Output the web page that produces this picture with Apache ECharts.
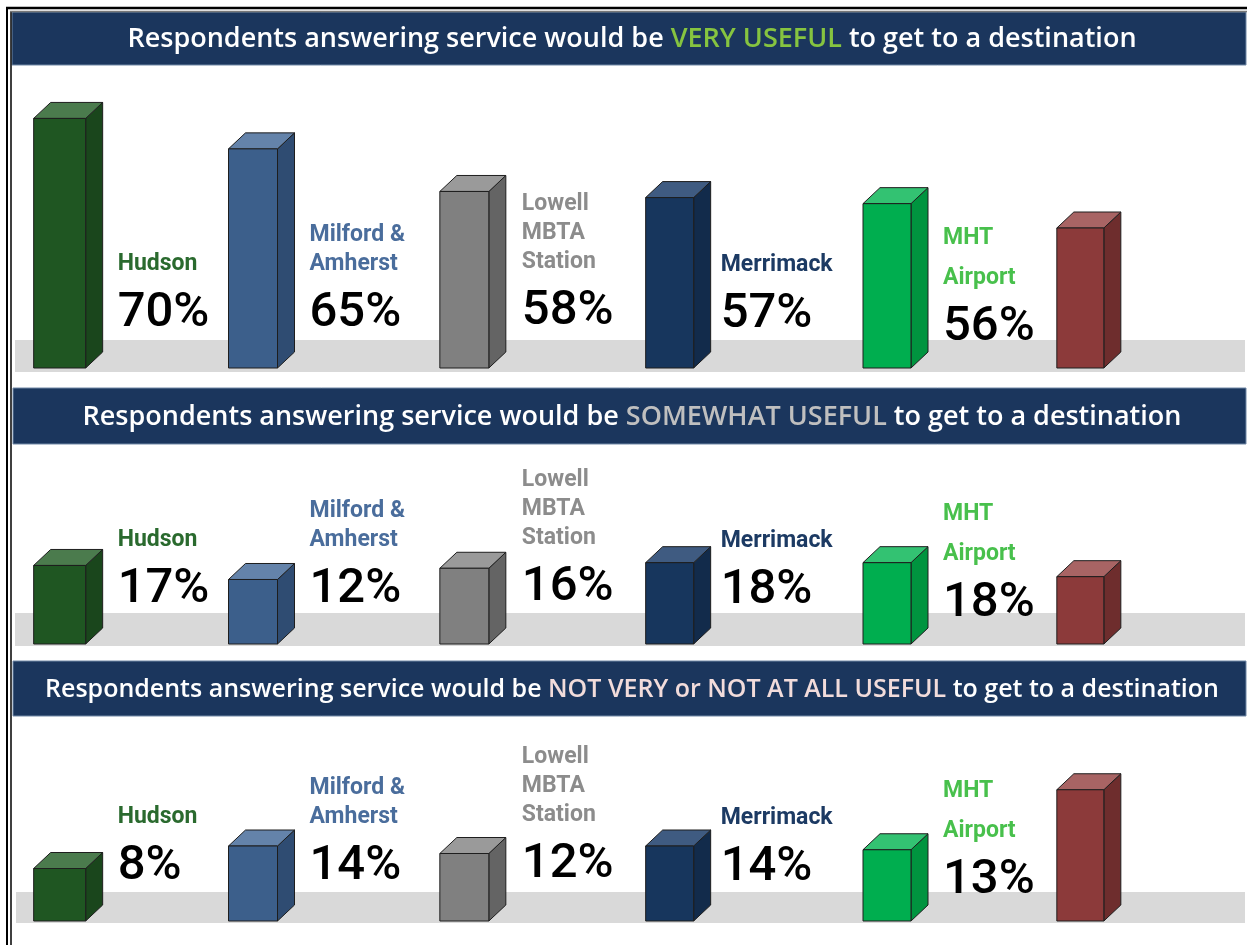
<!DOCTYPE html>
<html><head><meta charset="utf-8">
<script src="https://cdn.jsdelivr.net/npm/echarts@6/dist/echarts.min.js"></script>
<style>html,body{margin:0;padding:0;background:#fff}#c{width:1247px;height:945px}</style>
</head><body><div id="c"></div>
<script>
// ---- data ----
const categories = ['Hudson', 'Milford &\nAmherst', 'Lowell\nMBTA\nStation', 'Merrimack', 'MHT\nAirport', ''];
const veryUseful = [70, 65, 58, 57, 56, 52];
const somewhatUseful = [17, 12, 16, 18, 18, 13];
const notUseful = [8, 14, 12, 14, 13, 29];
const titleLead = 'Respondents answering service would be ';
const titleKeys = ['VERY USEFUL', 'SOMEWHAT USEFUL', 'NOT VERY or NOT AT ALL USEFUL'];
const titleTail = ' to get to a destination';

// ---- styles ----
const barFront = ['#1f5622', '#3c5f8b', '#808080', '#17365d', '#00ae4f', '#8c3a3a'];
const barSide  = ['#1a461c', '#2f4c72', '#646464', '#122b4b', '#00943f', '#6e2d2d'];
const barTop   = ['#4b7b4d', '#6483aa', '#9a9a9a', '#3f5b81', '#33c272', '#a86464'];
const nameColor = ['#2a6a2e', '#4a6d9c', '#8c8c8c', '#1c3a63', '#48c04c', '#000'];
const nameLineH = [29, 29, 29, 29, 40, 29];
const pctDrop = [54, 54, 56, 53, 40, 54];
const barNudge = [6, -6, 0, 0, 12, 0];
const barWidth = [52, 49, 49, 48, 48, 47];
const labelGap = [15, 15, 16, 10, 15, 15];
const keyColor = ['#86c440', '#bfbfbf', '#f2dcdb'];
const titleFont = [27, 27, 25];

const panels = [
  { data: veryUseful, min: 29, max: 75, top: 88, height: 280 },
  { data: somewhatUseful, min: -11, max: 30, top: 529, height: 115 },
  { data: notUseful, min: -6, max: 30, top: 786, height: 135 }
];

function makeRender(p) {
  return function (params, api) {
    const i = api.value(0), v = api.value(1);
    const t = api.coord([i, v]);
    const b = api.coord([i, panels[p].min]);
    const w = barWidth[i], dx = 17, dy = 16;
    const cx = t[0] - 64 + barNudge[i];
    const x0 = cx - w / 2, x1 = cx + w / 2, yT = t[1], yB = b[1];
    const st = { stroke: '#1e1e1e', lineWidth: 1 };
    const children = [
      { type: 'polygon', shape: { points: [[x1, yT], [x1 + dx, yT - dy], [x1 + dx, yB - dy], [x1, yB]] }, style: Object.assign({ fill: barSide[i] }, st) },
      { type: 'polygon', shape: { points: [[x0, yT], [x0 + dx, yT - dy], [x1 + dx, yT - dy], [x1, yT]] }, style: Object.assign({ fill: barTop[i] }, st) },
      { type: 'rect', shape: { x: x0, y: yT, width: w, height: yB - yT }, style: Object.assign({ fill: barFront[i] }, st) }
    ];
    const name = categories[i];
    if (name) {
      const lx = x1 + dx + labelGap[i];
      const pc = yB - pctDrop[i];
      const L = nameLineH[i];
      children.push({ type: 'text', style: { text: name, x: lx, y: pc - 50 + L / 2, verticalAlign: 'bottom', align: 'left',
        font: 'bold 23px Roboto', lineHeight: L, fill: nameColor[i] } });
      children.push({ type: 'text', style: { text: v + '%', x: lx, y: pc, verticalAlign: 'middle', align: 'left',
        font: '500 49px Roboto', fill: '#000' } });
    }
    return { type: 'group', children: children };
  };
}

const grids = [], xAxes = [], yAxes = [], series = [];
panels.forEach((p, k) => {
  grids.push({ left: 15, width: 1236, top: p.top, height: p.height });
  xAxes.push({ type: 'category', gridIndex: k, data: categories, show: false });
  yAxes.push({ type: 'value', gridIndex: k, min: p.min, max: p.max, show: false, splitLine: { show: false } });
  series.push({ type: 'custom', xAxisIndex: k, yAxisIndex: k, renderItem: makeRender(k), z: 5,
    data: p.data.map((v, i) => [i, v]), encode: { x: 0, y: 1 } });
});

const headerBoxes = [[12, 12, 1234, 53], [13, 388, 1233, 56], [13, 661, 1233, 55]];
const floors = [[15, 340, 1230, 32], [15, 613, 1230, 33], [16, 892, 1229, 31]];
const graphic = [];
floors.forEach(f => graphic.push({ type: 'rect', z: 0, shape: { x: f[0], y: f[1], width: f[2], height: f[3] }, style: { fill: '#d9d9d9' } }));
headerBoxes.forEach((h, k) => {
  graphic.push({ type: 'rect', z: 10, shape: { x: h[0], y: h[1], width: h[2], height: h[3] }, style: { fill: '#1b365d', stroke: '#7088a6', lineWidth: 1 } });
  const fnt = '600 ' + titleFont[k] + 'px "Open Sans"';
  graphic.push({ type: 'text', z: 11, style: {
    text: '{w|' + titleLead + '}{k|' + titleKeys[k] + '}{w|' + titleTail + '}',
    x: 632, y: h[1] + h[3] / 2 + 1, align: 'center', verticalAlign: 'middle',
    rich: {
      w: { font: fnt, fill: '#ffffff' },
      k: { font: fnt, fill: keyColor[k] }
    }
  } });
});
graphic.push({ type: 'line', z: 12, shape: { x1: 7, y1: 7, x2: 7, y2: 945 }, style: { stroke: '#000', lineWidth: 2 } });
graphic.push({ type: 'line', z: 12, shape: { x1: 11, y1: 11, x2: 11, y2: 945 }, style: { stroke: '#000', lineWidth: 1.5 } });
graphic.push({ type: 'line', z: 12, shape: { x1: 6, y1: 8, x2: 1247, y2: 8 }, style: { stroke: '#000', lineWidth: 2.5 } });
graphic.push({ type: 'line', z: 12, shape: { x1: 10, y1: 11.5, x2: 1247, y2: 11.5 }, style: { stroke: '#777', lineWidth: 1.5 } });

const chart = echarts.init(document.getElementById('c'));
chart.setOption({
  animation: false,
  backgroundColor: '#fff',
  grid: grids, xAxis: xAxes, yAxis: yAxes, series: series, graphic: graphic
});
</script></body></html>
